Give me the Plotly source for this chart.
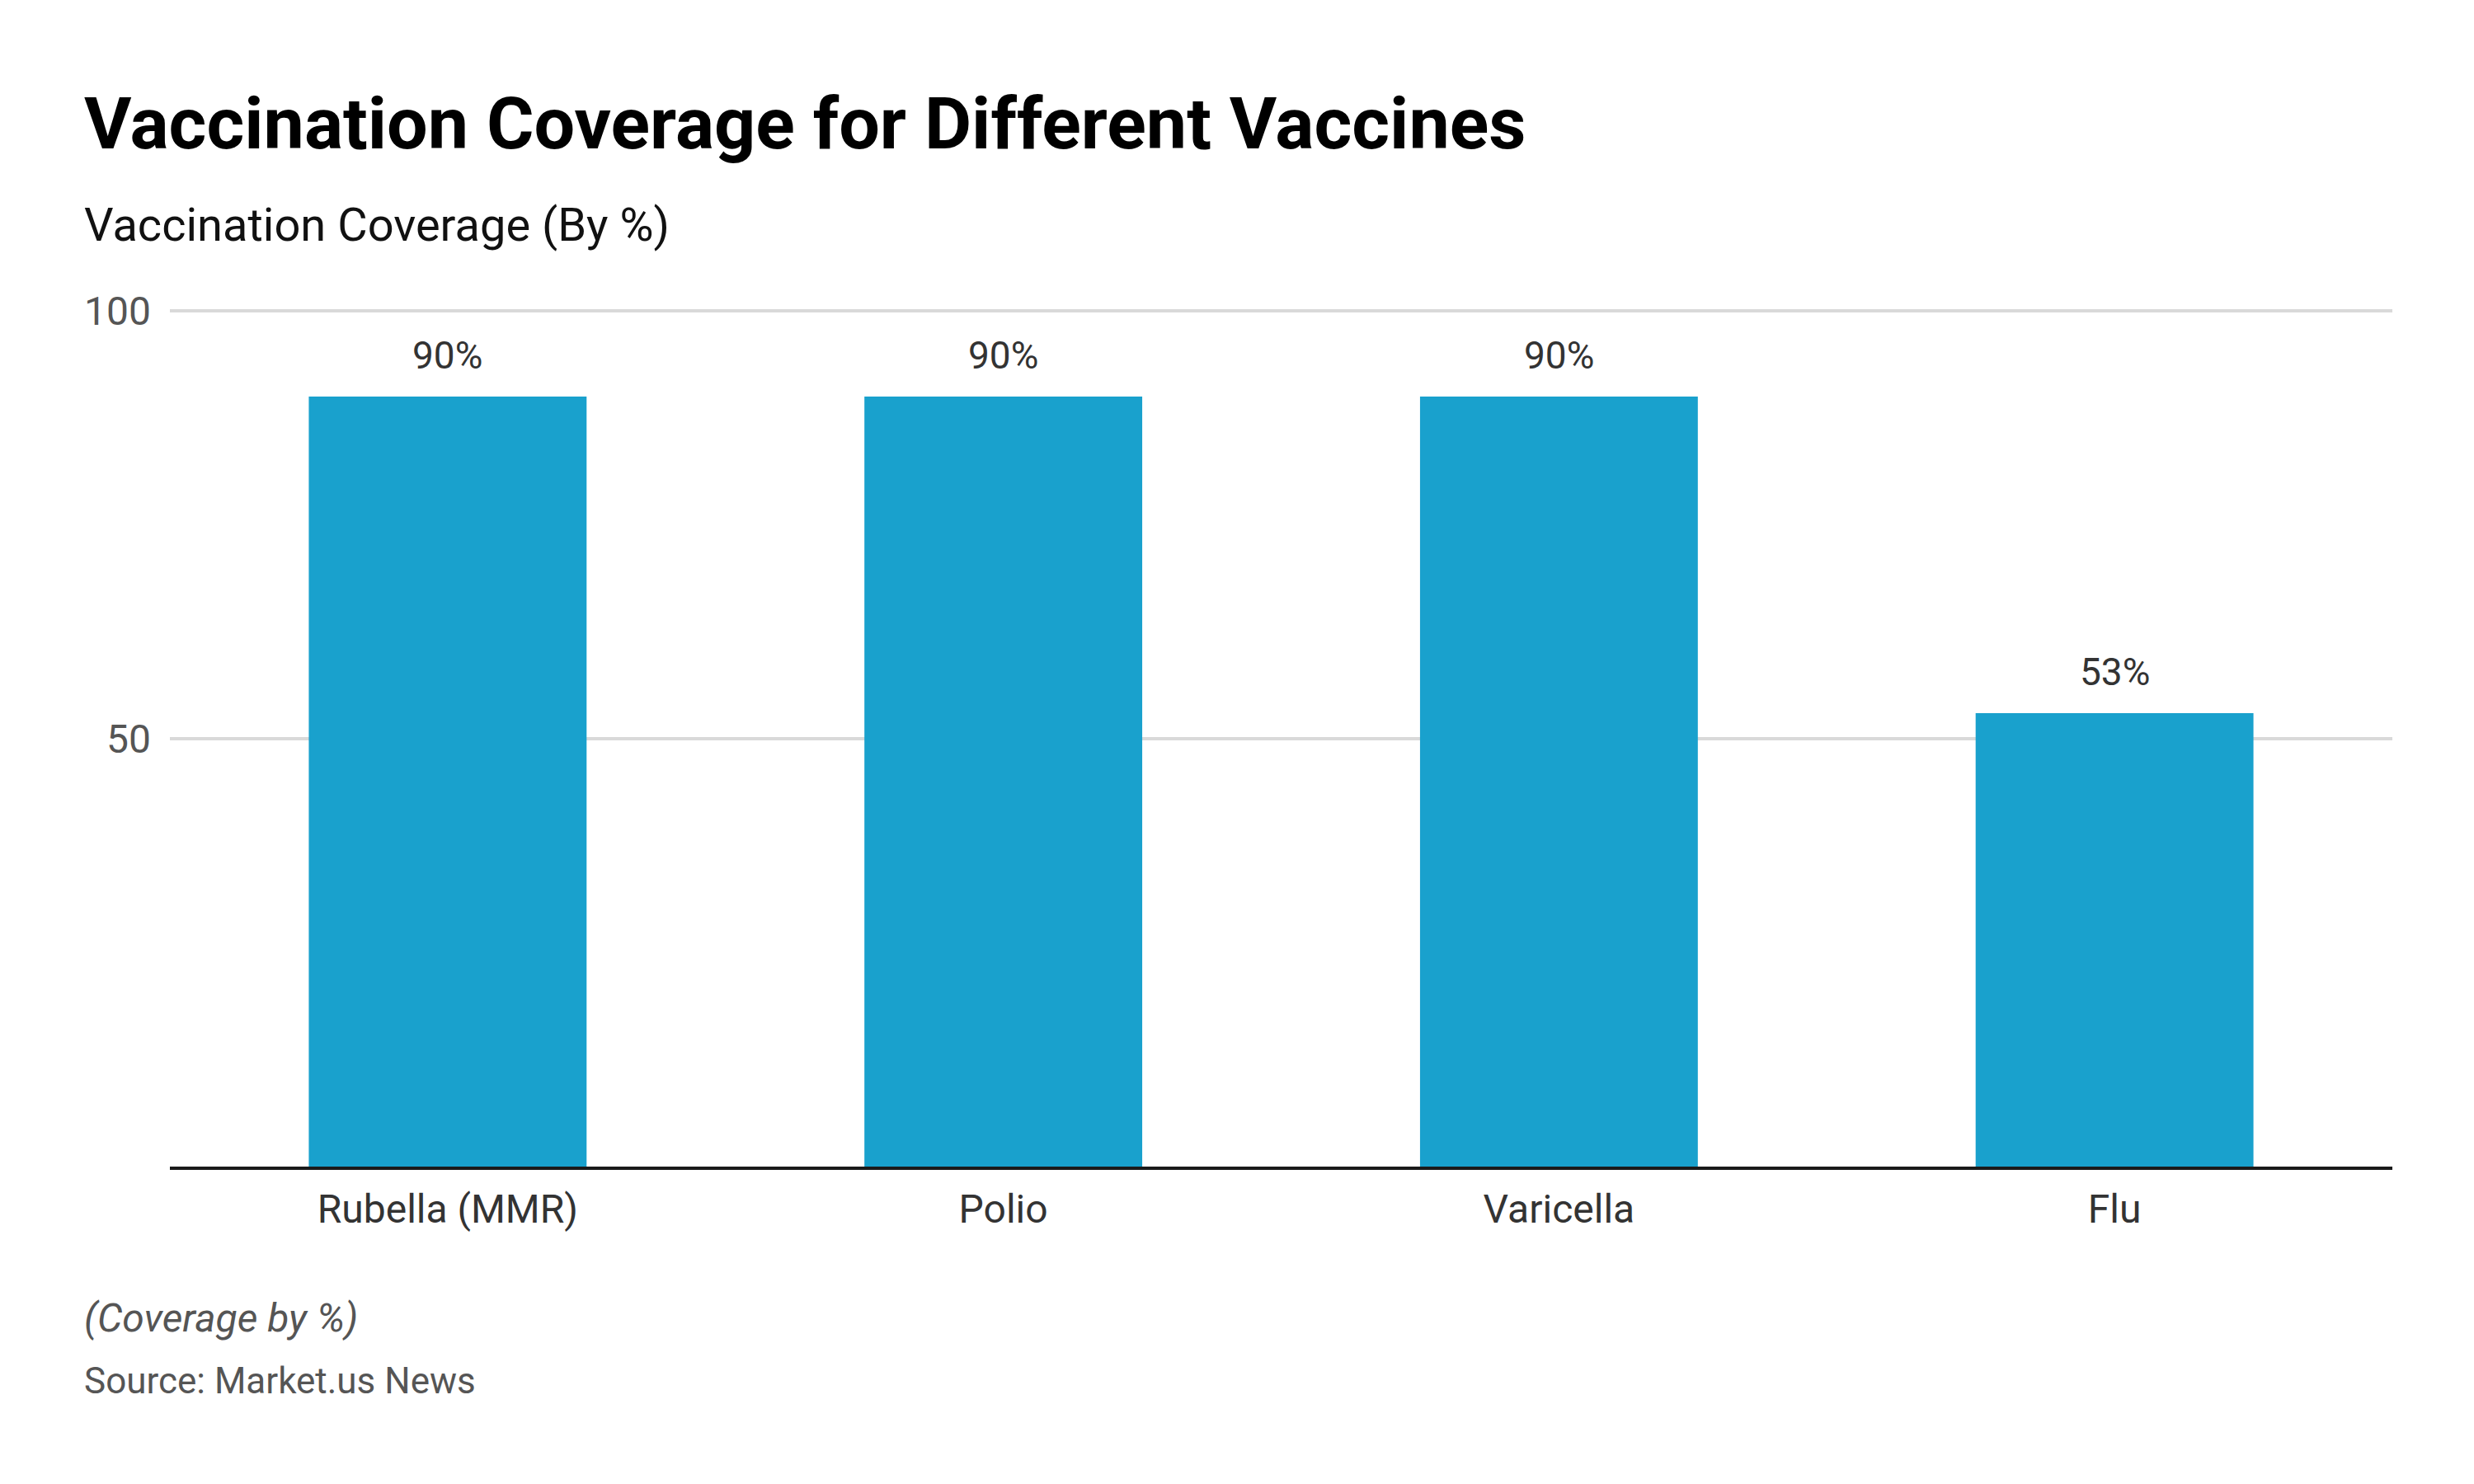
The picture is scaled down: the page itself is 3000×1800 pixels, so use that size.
import plotly.graph_objects as go

categories = ["Rubella (MMR)", "Polio", "Varicella", "Flu"]
coverage = [90, 90, 90, 53]
value_labels = ["90%", "90%", "90%", "53%"]
y_tickvals = [50, 100]
y_ticktext = ["50", "100"]

W, H = 3000, 1800
L, R, T, B = 198, 107, 366, 393
PW, PH = W - L - R, H - T - B

def px_x(x):
    return (x - L) / PW

def px_y(y):
    return (H - B - y) / PH

BAR = "#19A1CD"
FONT = "Roboto"

fig = go.Figure()
fig.add_trace(go.Bar(
    x=categories, y=coverage, marker_color=BAR, marker_line_width=0,
    width=0.5, hoverinfo="skip", showlegend=False,
))

for c, v, t in zip(categories, coverage, value_labels):
    fig.add_annotation(x=c, y=v, xref="x", yref="y", text=t, showarrow=False,
                       yanchor="bottom", yshift=21,
                       font=dict(family=FONT, size=46, color="#333333"))

fig.add_annotation(x=px_x(92), y=px_y(142), xref="paper", yref="paper",
                   text="<b>Vaccination Coverage for Different Vaccines</b>",
                   showarrow=False, xanchor="left", yanchor="middle",
                   font=dict(family=FONT, size=88, color="#000000"))
fig.add_annotation(x=px_x(92), y=px_y(265), xref="paper", yref="paper",
                   text="Vaccination Coverage (By %)",
                   showarrow=False, xanchor="left", yanchor="middle",
                   font=dict(family=FONT, size=56, color="#111111"))
fig.add_annotation(x=px_x(92), y=px_y(1590), xref="paper", yref="paper",
                   text="<i>(Coverage by %)</i>",
                   showarrow=False, xanchor="left", yanchor="middle",
                   font=dict(family=FONT, size=48, color="#555555"))
fig.add_annotation(x=px_x(92), y=px_y(1667), xref="paper", yref="paper",
                   text="Source: Market.us News",
                   showarrow=False, xanchor="left", yanchor="middle",
                   font=dict(family=FONT, size=44, color="#555555"))

fig.update_layout(
    width=W, height=H,
    margin=dict(l=L, r=R, t=T, b=B, pad=0),
    paper_bgcolor="white", plot_bgcolor="white",
    bargap=0.5,
    font=dict(family=FONT),
)
fig.update_xaxes(
    showgrid=False, showline=True, linecolor="#1a1a1a", linewidth=4,
    ticks="", tickfont=dict(family=FONT, size=48, color="#333333"),
    ticklabelstandoff=6, fixedrange=True,
)
fig.update_yaxes(
    range=[0, 100.3], tickvals=y_tickvals, ticktext=y_ticktext,
    showgrid=True, gridcolor="#d9d9d9", gridwidth=4,
    zeroline=False, showline=False, ticks="",
    tickfont=dict(family=FONT, size=48, color="#555555"),
    ticklabelstandoff=22, fixedrange=True,
)

fig.write_html("out.html")
